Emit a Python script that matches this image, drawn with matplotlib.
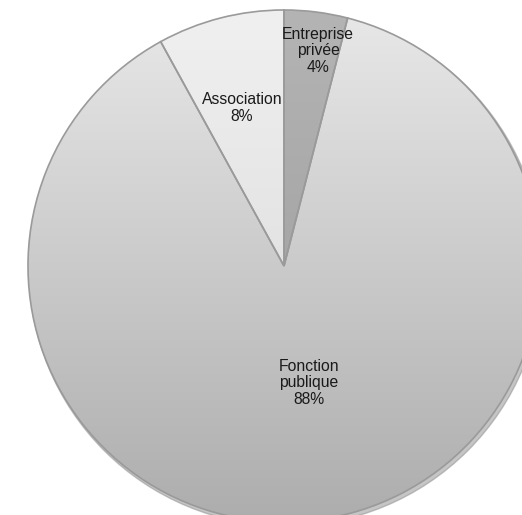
import numpy as np
import matplotlib
matplotlib.use('Agg')
import matplotlib.pyplot as plt
from matplotlib.colors import LinearSegmentedColormap
from matplotlib.patches import Circle

plt.rcParams['font.family'] = ['Liberation Sans', 'DejaVu Sans']

# Données
categories = ['Entreprise\nprivée', 'Fonction\npublique', 'Association']
values = [4, 88, 8]
# couleurs des dégradés (haut -> bas)
gradients = [('#b4b4b4', '#989898'), ('#e8e8e8', '#adadad'), ('#f0f0f0', '#d6d6d6')]
label_pos = [(318, 51), (309, 383), (242, 108)]

W, H = 522, 515
fig = plt.figure(figsize=(W / 100, H / 100), dpi=100)
ax = fig.add_axes([0, 0, 1, 1])

cx, cy, r = 284, H - 266, 256

# ombre sous le disque
ax.add_patch(Circle((cx + 2, cy - 3), r + 1, color='#8c8c8c', alpha=0.5, zorder=0))

wedges, _ = ax.pie(values, center=(cx, cy), radius=r, startangle=90,
                   counterclock=False, frame=True,
                   wedgeprops=dict(edgecolor='#9a9a9a', linewidth=1.2))

grad = np.linspace(0, 1, 256).reshape(-1, 1)
for w, (c1, c2) in zip(wedges, gradients):
    w.set_facecolor('none')
    w.set_zorder(3)
    cmap = LinearSegmentedColormap.from_list('g', [c1, c2])
    im = ax.imshow(grad, cmap=cmap, extent=(cx - r, cx + r, cy - r, cy + r),
                   origin='upper', aspect='auto', zorder=2)
    im.set_clip_path(w)

for (x, y), cat, v in zip(label_pos, categories, values):
    ax.text(x, H - y, f'{cat}\n{v}%', ha='center', va='center',
            fontsize=11.3, color='#1a1a1a', linespacing=1.12, zorder=5)

ax.set_xlim(0, W)
ax.set_ylim(0, H)
ax.set_aspect('equal')
ax.axis('off')

fig.savefig('out.png', dpi=100, facecolor='white')
